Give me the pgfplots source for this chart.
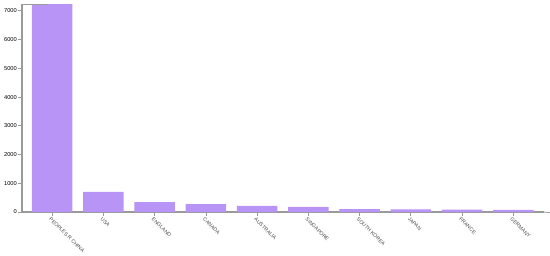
\documentclass[border=0pt]{standalone}
\usepackage{pgfplots}
\pgfplotsset{compat=1.18}
\usepackage{fontspec}
\setmainfont{Liberation Sans}
\definecolor{barc}{HTML}{B794F6}
\definecolor{axc}{HTML}{9A9A9A}
\begin{document}
\begin{tikzpicture}
\begin{axis}[
  at={(0,0)}, anchor=south west,
  scale only axis, width=522pt, height=208pt,
  xmin=-0.59, xmax=9.6, ymin=0, ymax=7240,
  axis x line*=bottom, axis y line*=left,
  axis line style={axc, line width=1.3pt, -},
  ybar, bar width=40.5pt,
  xtick=data,
  xticklabels={PEOPLES R CHINA,USA,ENGLAND,CANADA,AUSTRALIA,SINGAPORE,SOUTH KOREA,JAPAN,FRANCE,GERMANY},
  x tick label style={rotate=-45, anchor=north west, font=\fontsize{5.2}{6}\selectfont, text=black!70, inner sep=1pt, xshift=-1pt},
  ytick={0,1000,...,7000},
  y tick label style={font=\fontsize{5.7}{7}\selectfont, text=black, inner sep=1pt},
  /pgf/number format/assume math mode=true,
  scaled y ticks=false,
  yticklabel style={/pgf/number format/1000 sep={}},
  tick style={axc, line width=0.8pt},
  tick align=outside, major tick length=4pt,
  clip=false,
]
\addplot[fill=barc, draw=none] coordinates {
(0,7240) (1,700) (2,340) (3,272) (4,216) (5,181) (6,98) (7,90) (8,80) (9,73)};
\draw[axc, line width=0.8pt] (rel axis cs:0,1) -- ++(-4pt,0);
\draw[axc, line width=0.8pt] (rel axis cs:1,0) -- ++(0,-4pt);
\end{axis}
\pgfresetboundingbox
\path[use as bounding box] (-22pt,-43pt) rectangle (528pt,212pt);
\end{tikzpicture}
\end{document}
